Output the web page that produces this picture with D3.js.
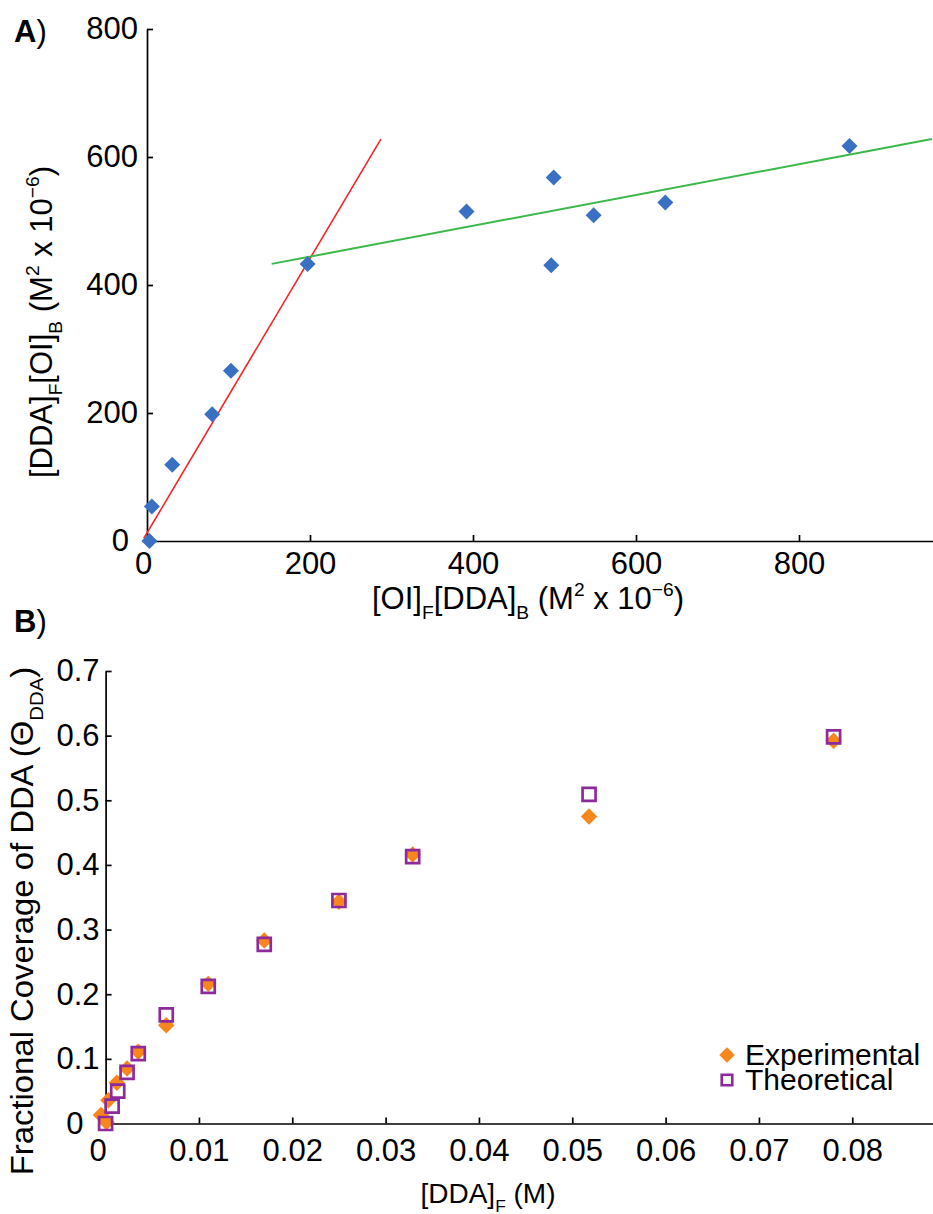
<!DOCTYPE html>
<html><head><meta charset="utf-8">
<script src="https://cdn.jsdelivr.net/npm/d3@7"></script>
<style>
html,body{margin:0;padding:0;background:#fff;}
svg{display:block;font-family:"Liberation Sans",Arial,Helvetica,sans-serif;}
</style></head><body>
<svg id="fig" width="933" height="1214"></svg>
<script>
// ---- Panel A: [DDA]F[OI]B vs [OI]F[DDA]B ----
const bindX = [3, 6, 31, 80, 103, 197, 392, 496, 499, 548, 636, 862];
const bindY = [0, 54, 119, 198, 266, 433, 515, 431, 568, 509, 529, 617];
const redFitX = [-4, 287];
const redFitY = [4, 628];
const greenFitX = [153, 963];
const greenFitY = [433, 628];
const ticksAX = [0, 200, 400, 600, 800];
const ticksAY = [0, 200, 400, 600, 800];

// ---- Panel B: fractional coverage vs free DDA ----
const expX = [-0.0005, 0.0001, 0.0003, 0.0012, 0.0023, 0.0035, 0.0065, 0.0110, 0.0170, 0.0250, 0.0329, 0.0518, 0.0780];
const expY = [0.013, 0.002, 0.036, 0.063, 0.085, 0.111, 0.152, 0.216, 0.283, 0.343, 0.416, 0.475, 0.592];
const theoX = [0.0000, 0.0007, 0.0013, 0.0023, 0.0035, 0.0065, 0.0110, 0.0170, 0.0250, 0.0329, 0.0518, 0.0780];
const theoY = [0.000, 0.027, 0.050, 0.079, 0.108, 0.168, 0.212, 0.277, 0.345, 0.413, 0.509, 0.598];
const ticksBX = [0, 0.01, 0.02, 0.03, 0.04, 0.05, 0.06, 0.07, 0.08];
const ticksBY = [0, 0.1, 0.2, 0.3, 0.4, 0.5, 0.6, 0.7];
const legendLabels = ["Experimental", "Theoretical"];

const svg = d3.select("#fig");
const FS = 31;
const BLUE = "#3a70c4", RED = "#f2262b", GREEN = "#3cb84a", ORANGE = "#f7871c", PURPLE = "#8d2b9c";

// text made of runs with optional sub/superscripts
function richText(sel, parts, fs) {
  let shift = 0;
  parts.forEach(([t, k]) => {
    const target = k === "sub" ? fs * 0.32 : k === "sup" ? -fs * 0.42 : 0;
    sel.append("tspan")
      .attr("dy", target - shift)
      .attr("font-size", k ? fs * 0.62 : fs)
      .text(t);
    shift = target;
  });
  return sel;
}

function styleAxis(g, fs) {
  g.select(".domain").attr("stroke", "#000").attr("stroke-width", 1.7);
  g.selectAll(".tick line").attr("stroke", "#000").attr("stroke-width", 1.7);
  g.selectAll(".tick text").attr("font-size", fs).attr("fill", "#000")
    .attr("font-family", '"Liberation Sans",Arial,sans-serif');
}

// ================= Panel A =================
const xA = d3.scaleLinear().domain([0, 1000]).range([147, 962]);
const yA = d3.scaleLinear().domain([0, 800]).range([541, 29]);

const gAx = svg.append("g").attr("transform", `translate(0,${yA(0)})`)
  .call(d3.axisBottom(xA).tickValues(ticksAX).tickSizeInner(-6).tickSizeOuter(0)
    .tickPadding(11).tickFormat(d3.format("d")));
styleAxis(gAx, FS);
gAx.selectAll(".tick text").filter(d => d === 0).attr("dx", -4);

const gAy = svg.append("g").attr("transform", `translate(${xA(0)},0)`)
  .call(d3.axisLeft(yA).tickValues(ticksAY).tickSizeInner(-6).tickSizeOuter(0)
    .tickPadding(9).tickFormat(d3.format("d")));
styleAxis(gAy, FS);
gAy.selectAll(".tick text").filter(d => d === 0).attr("dx", -9);

// linear fits
const lineA = d3.line().x(d => xA(d[0])).y(d => yA(d[1]));
svg.append("path").datum(d3.zip(redFitX, redFitY)).attr("d", lineA)
  .attr("fill", "none").attr("stroke", RED).attr("stroke-width", 1.6);
svg.append("path").datum(d3.zip(greenFitX, greenFitY)).attr("d", lineA)
  .attr("fill", "none").attr("stroke", GREEN).attr("stroke-width", 2);

// diamonds
const diamond = d3.symbol().type(d3.symbolSquare).size(128);
svg.append("g").selectAll("path").data(d3.zip(bindX, bindY)).join("path")
  .attr("d", diamond)
  .attr("transform", d => `translate(${xA(d[0])},${yA(d[1])}) rotate(45)`)
  .attr("fill", BLUE);

// axis titles
richText(svg.append("text").attr("x", 528).attr("y", 609).attr("text-anchor", "middle"),
  [["[OI]"], ["F", "sub"], ["[DDA]"], ["B", "sub"], [" (M"], ["2", "sup"], [" x 10"], ["\u22126", "sup"], [")"]], FS);
richText(svg.append("text").attr("transform", "translate(52,322) rotate(-90)").attr("text-anchor", "middle"),
  [["[DDA]"], ["F", "sub"], ["[OI]"], ["B", "sub"], [" (M"], ["2", "sup"], [" x 10"], ["\u22126", "sup"], [")"]], FS);

// panel letter
const tA = svg.append("text").attr("x", 14).attr("y", 42).attr("font-size", 31);
tA.append("tspan").attr("font-weight", "bold").text("A");
tA.append("tspan").text(")");

// ================= Panel B =================
const xB = d3.scaleLinear().domain([0, 0.09]).range([105.6, 945.6]);
const yB = d3.scaleLinear().domain([0, 0.7]).range([1123.5, 671]);

const fmtB = d => d === 0 ? "0" : d3.format(".2~f")(d);
const gBx = svg.append("g").attr("transform", `translate(0,${yB(0)})`)
  .call(d3.axisBottom(xB).tickValues(ticksBX).tickSizeInner(-6).tickSizeOuter(0)
    .tickPadding(15).tickFormat(fmtB));
styleAxis(gBx, FS);
gBx.selectAll(".tick text").filter(d => d === 0).attr("dx", -8);

const gBy = svg.append("g").attr("transform", `translate(${xB(0)},0)`)
  .call(d3.axisLeft(yB).tickValues(ticksBY).tickSizeInner(-6).tickSizeOuter(0)
    .tickPadding(6).tickFormat(d => d === 0 ? "0" : d3.format(".1f")(d)));
styleAxis(gBy, FS);
gBy.selectAll(".tick text").filter(d => d === 0).attr("dx", -16);

// experimental (filled diamonds) under theoretical (open squares)
const diamondB = d3.symbol().type(d3.symbolSquare).size(136);
svg.append("g").selectAll("path").data(d3.zip(expX, expY)).join("path")
  .attr("d", diamondB)
  .attr("transform", d => `translate(${xB(d[0])},${yB(d[1])}) rotate(45)`)
  .attr("fill", ORANGE);
const squareB = d3.symbol().type(d3.symbolSquare).size(169);
svg.append("g").selectAll("path").data(d3.zip(theoX, theoY)).join("path")
  .attr("d", squareB)
  .attr("transform", d => `translate(${xB(d[0])},${yB(d[1])})`)
  .attr("fill", "none").attr("stroke", PURPLE).attr("stroke-width", 2.7);

// legend
const leg = svg.append("g");
leg.append("path").attr("d", d3.symbol().type(d3.symbolSquare).size(120))
  .attr("transform", "translate(727,1055) rotate(45)").attr("fill", ORANGE);
leg.append("path").attr("d", d3.symbol().type(d3.symbolSquare).size(110))
  .attr("transform", "translate(727,1080)").attr("fill", "none").attr("stroke", PURPLE).attr("stroke-width", 2.7);
leg.selectAll("text").data(legendLabels).join("text")
  .attr("x", 745).attr("y", (d, i) => 1065 + i * 25).attr("font-size", 30).text(d => d);

// axis titles
richText(svg.append("text").attr("x", 488).attr("y", 1203).attr("text-anchor", "middle"),
  [["[DDA]"], ["F", "sub"], [" (M)"]], 28);
richText(svg.append("text").attr("transform", "translate(33,921) rotate(-90) scale(1.06,1)").attr("text-anchor", "middle"),
  [["Fractional Coverage of DDA (\u0398"], ["DDA", "sub"], [")"]], FS);

const tB = svg.append("text").attr("x", 14).attr("y", 632).attr("font-size", 31);
tB.append("tspan").attr("font-weight", "bold").text("B");
tB.append("tspan").text(")");
</script>
</body></html>
